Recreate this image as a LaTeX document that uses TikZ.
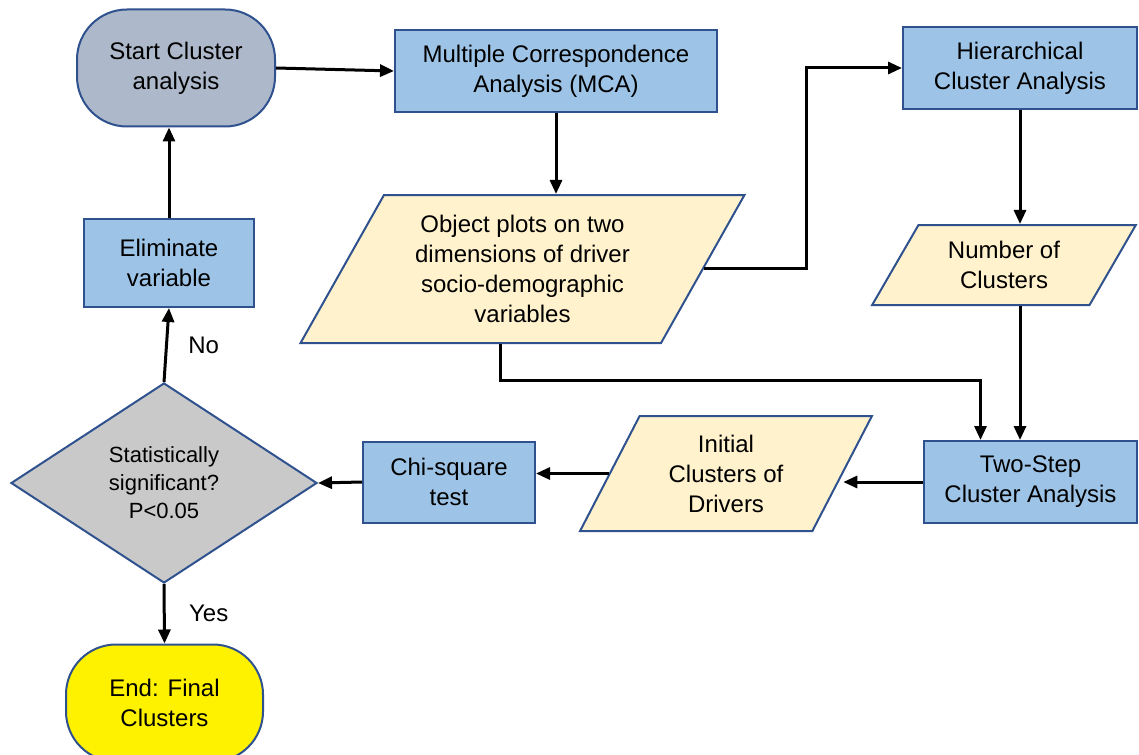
\documentclass[tikz,border=0pt]{standalone}
\usepackage{fontspec}
\setmainfont{Liberation Sans}
\usetikzlibrary{shapes.geometric,arrows.meta}

\definecolor{boxblue}{HTML}{9DC3E6}
\definecolor{edgeblue}{HTML}{2F528F}
\definecolor{startgray}{HTML}{ADB9CA}
\definecolor{datacream}{HTML}{FFF2CC}
\definecolor{decgray}{HTML}{C9C9C9}

\tikzset{
  procbox/.style={draw=edgeblue, fill=boxblue, line width=2pt, inner sep=0pt, align=center},
  termbox/.style={draw=edgeblue, line width=2pt, rounded corners=50pt, inner sep=0pt,
    minimum width=198pt, minimum height=117pt, align=center},
  databox/.style={trapezium, trapezium stretches=true, draw=edgeblue, fill=datacream,
    line width=2pt, inner sep=0pt, align=center,
    trapezium left angle=#1, trapezium right angle=180-#1},
  decision/.style={diamond, draw=edgeblue, fill=decgray, line width=2pt, inner sep=0pt,
    minimum width=306pt, minimum height=200pt, align=center, font=\fontsize{22}{28}\selectfont},
  flow/.style={->, line width=3pt, black}
}

\begin{document}
\begin{tikzpicture}[x=1pt, y=-1pt, font=\fontsize{24}{30}\selectfont,
    >={Triangle[length=14pt,width=12pt]}]
  \useasboundingbox (0,0) rectangle (1139,754);

  % Start and end
  \node[termbox, fill=startgray] (start) at (176,68) {Start Cluster\\analysis};
  \node[termbox, fill=yellow, minimum width=197pt] (end) at (164.5,703) {End: Final\\Clusters};

  % Process boxes
  \node[procbox, minimum width=322pt, minimum height=82pt] (mca) at (556,71) {Multiple Correspondence\\Analysis (MCA)};
  \node[procbox, minimum width=234pt, minimum height=82pt] (hier) at (1020,68) {Hierarchical\\Cluster Analysis};
  \node[procbox, minimum width=170pt, minimum height=88pt] (elim) at (169,263) {Eliminate\\variable};
  \node[procbox, minimum width=172pt, minimum height=81pt] (chi) at (449,482) {Chi-square\\test};
  \node[procbox, minimum width=213pt, minimum height=82pt] (two) at (1030.5,482) {Two-Step\\Cluster Analysis};

  % Data
  \node[databox=59, minimum width=445pt, minimum height=148pt] (plots) at (522.5,269)
    {Object plots on two\\dimensions of driver\\socio-demographic\\variables};
  \node[databox=57.5, minimum width=264pt, minimum height=80pt] (num) at (1004,265) {Number of\\Clusters};
  \node[databox=63, minimum width=292pt, minimum height=115pt] (init) at (726,473.5) {Initial\\Clusters of\\Drivers};

  % Decision
  \node[decision] (dec) at (164,483) {Statistically\\significant?\\P<0.05};

  % Connectors
  \draw[flow] (start.east) -- (mca.west);
  \draw[flow] (mca.south) -- (mca.south |- plots.north);
  \draw[flow] (plots.east) -- ++(103,0) |- (hier.west);
  \draw[flow] (hier.south) -- (hier.south |- num.north);
  \draw[flow] (hier.south |- num.south) -- (hier.south |- two.north);
  \draw[flow] ([xshift=-22pt]plots.south) -- ++(0,36) -| ([xshift=-50pt]two.north);
  \draw[flow] (two.west) -- (two.west -| init.east);
  \draw[flow] (init.west) -- (init.west -| chi.east);
  \draw[flow] (chi.west) -- (dec.east);
  \draw[flow] (dec.north) -- node[midway, right=17pt] {No} (elim.south);
  \draw[flow] (elim.north) -- (elim.north |- start.south);
  \draw[flow] (dec.south) -- node[midway, right=20pt] {Yes} (end.north);
\end{tikzpicture}
\end{document}
